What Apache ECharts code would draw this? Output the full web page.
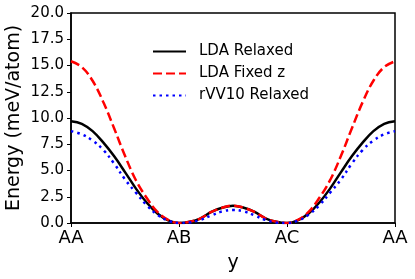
<!DOCTYPE html>
<html>
<head>
<meta charset="utf-8">
<script src="https://cdn.jsdelivr.net/npm/echarts@6/dist/echarts.min.js"></script>
<style>
html,body{margin:0;padding:0;background:#fff;}
#chart{width:415px;height:279px;}
</style>
</head>
<body>
<div id="chart"></div>
<script>
var xPositions = [0.0,0.1,0.2,0.3,0.4,0.5,0.6,0.7,0.8,0.9,1.0,1.1,1.2,1.3,1.4,1.5,1.6,1.7,1.8,1.9,2.0,2.1,2.2,2.3,2.4,2.5,2.6,2.7,2.8,2.9,3.0];
var ldaRelaxed = [9.7,9.45,8.75,7.65,6.35,4.85,3.3,1.95,0.9,0.25,0.0,0.12,0.45,1.05,1.45,1.65,1.45,1.05,0.45,0.12,0.0,0.25,0.9,1.95,3.3,4.85,6.35,7.65,8.75,9.45,9.7];
var ldaFixedZ = [15.4,14.85,13.55,11.5,9.0,6.4,4.1,2.4,1.05,0.3,0.0,0.12,0.45,1.05,1.45,1.65,1.45,1.05,0.45,0.12,0.0,0.3,1.05,2.4,4.1,6.4,9.0,11.5,13.55,14.85,15.4];
var rvv10Relaxed = [8.75,8.45,7.85,6.95,5.65,4.15,2.9,1.7,0.78,0.22,0.0,0.05,0.3,0.72,1.1,1.25,1.1,0.72,0.3,0.05,0.0,0.22,0.78,1.7,2.9,4.15,5.65,6.95,7.85,8.45,8.75];
var xTickLabels = ['AA','AB','AC','AA'];
var seriesNames = ['LDA Relaxed','LDA Fixed z','rVV10 Relaxed'];

function pairs(ys){ return xPositions.map(function(x,i){ return [x, ys[i]]; }); }

var chart = echarts.init(document.getElementById('chart'), null, {renderer:'canvas'});
var font = 'DejaVu Sans';
chart.setOption({
  animation:false,
  backgroundColor:'#fff',
  textStyle:{fontFamily:font},
  grid:{left:71,right:20,top:13,bottom:56,outerBoundsMode:'none',containLabel:false,show:true,borderColor:'#000',borderWidth:1.5,backgroundColor:'transparent'},
  legend:{
    orient:'vertical', left:147, top:39, itemWidth:33, itemHeight:14, itemGap:7,
    itemStyle:{opacity:0},
    textStyle:{fontFamily:font,fontSize:15,color:'#000',padding:[0,0,0,8]},
    data:seriesNames
  },
  xAxis:{
    type:'value', min:0, max:3, interval:1,
    name:'y', nameLocation:'middle', nameGap:31, nameMoveOverlap:false,
    nameTextStyle:{fontFamily:font,fontSize:19,color:'#000'},
    axisLine:{show:true,lineStyle:{color:'#000',width:1.5}},
    axisTick:{show:true,length:4,lineStyle:{color:'#000',width:1}},
    axisLabel:{fontFamily:font,fontSize:18,color:'#000',margin:6,formatter:function(v){return xTickLabels[Math.round(v)];}},
    splitLine:{show:false}
  },
  yAxis:{
    type:'value', min:0, max:20, interval:2.5,
    name:'Energy (meV/atom)', nameLocation:'middle', nameGap:47, nameMoveOverlap:false,
    nameTextStyle:{fontFamily:font,fontSize:19,color:'#000'},
    axisLine:{show:true,lineStyle:{color:'#000',width:1.5}},
    axisTick:{show:true,length:4,lineStyle:{color:'#000',width:1}},
    axisLabel:{fontFamily:font,fontSize:15,color:'#000',margin:7,formatter:function(v){return v.toFixed(1);}},
    splitLine:{show:false}
  },
  series:[
    {name:seriesNames[0],type:'line',data:pairs(ldaRelaxed),smooth:0.4,symbol:'none',
     lineStyle:{color:'#000',width:2.5},itemStyle:{color:'#000'}},
    {name:seriesNames[1],type:'line',data:pairs(ldaFixedZ),smooth:0.4,symbol:'none',
     lineStyle:{color:'#ff0000',width:2.5,type:[9,4],cap:'butt'},itemStyle:{color:'#ff0000'}},
    {name:seriesNames[2],type:'line',data:pairs(rvv10Relaxed),smooth:0.4,symbol:'none',
     lineStyle:{color:'#0000ff',width:2.5,type:[2.5,4],cap:'butt'},itemStyle:{color:'#0000ff'}}
  ]
});
</script>
</body>
</html>
